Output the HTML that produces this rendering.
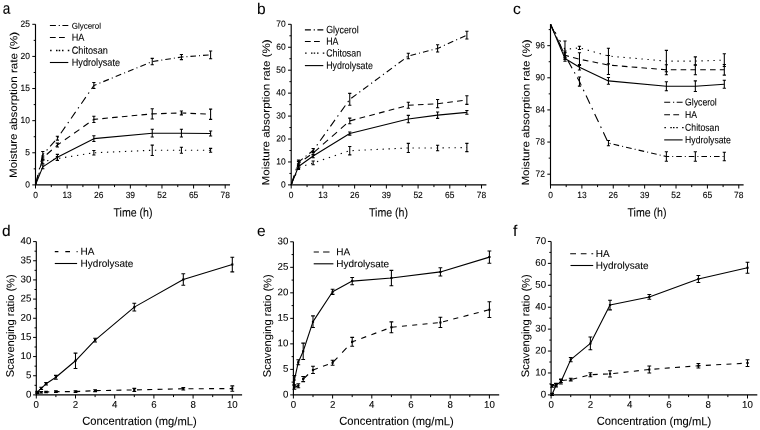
<!DOCTYPE html>
<html><head><meta charset="utf-8"><style>
html,body{margin:0;padding:0;background:#fff;}
svg{display:block;filter:blur(0.3px);}
text{font-family:"Liberation Sans", sans-serif;fill:#000;stroke:#000;stroke-width:0.08px;}
</style></head><body>
<svg width="760" height="430" viewBox="0 0 760 430">
<rect width="760" height="430" fill="#fff"/>
<path d="M35.5 24.3V184.9H230.06" fill="none" stroke="#000" stroke-width="1.15"/>
<text transform="translate(30,187.4) skewY(0.25) scale(1,1.058)" font-size="8.45" text-anchor="end">0</text>
<text transform="translate(30,155.28) skewY(0.25) scale(1,1.058)" font-size="8.45" text-anchor="end">5</text>
<text transform="translate(30,123.16) skewY(0.25) scale(1,1.058)" font-size="8.45" text-anchor="end">10</text>
<text transform="translate(30,91.04) skewY(0.25) scale(1,1.058)" font-size="8.45" text-anchor="end">15</text>
<text transform="translate(30,58.92) skewY(0.25) scale(1,1.058)" font-size="8.45" text-anchor="end">20</text>
<text transform="translate(30,26.8) skewY(0.25) scale(1,1.058)" font-size="8.45" text-anchor="end">25</text>
<text transform="translate(35.5,198.1) skewY(0.25) scale(1,1.058)" font-size="8.45" text-anchor="middle">0</text>
<text transform="translate(67.12,198.1) skewY(0.25) scale(1,1.058)" font-size="8.45" text-anchor="middle">13</text>
<text transform="translate(98.73,198.1) skewY(0.25) scale(1,1.058)" font-size="8.45" text-anchor="middle">26</text>
<text transform="translate(130.35,198.1) skewY(0.25) scale(1,1.058)" font-size="8.45" text-anchor="middle">39</text>
<text transform="translate(161.96,198.1) skewY(0.25) scale(1,1.058)" font-size="8.45" text-anchor="middle">52</text>
<text transform="translate(193.58,198.1) skewY(0.25) scale(1,1.058)" font-size="8.45" text-anchor="middle">65</text>
<text transform="translate(225.2,198.1) skewY(0.25) scale(1,1.058)" font-size="8.45" text-anchor="middle">78</text>
<path d="M35.5 184.9h-3.2M35.5 152.78h-3.2M35.5 120.66h-3.2M35.5 88.54h-3.2M35.5 56.42h-3.2M35.5 24.3h-3.2M35.5 168.84h-1.8M35.5 136.72h-1.8M35.5 104.6h-1.8M35.5 72.48h-1.8M35.5 40.36h-1.8M35.5 184.9v3.6M67.12 184.9v3.6M98.73 184.9v3.6M130.35 184.9v3.6M161.96 184.9v3.6M193.58 184.9v3.6M225.2 184.9v3.6M51.31 184.9v2.2M82.92 184.9v2.2M114.54 184.9v2.2M146.16 184.9v2.2M177.77 184.9v2.2M209.39 184.9v2.2" fill="none" stroke="#000" stroke-width="1"/>
<text transform="translate(2.7,13.7) skewY(0.25) scale(1,1.18)" font-size="13.6" text-anchor="start">a</text>
<text transform="translate(133,216.5) skewY(0.25) scale(1,1.13)" font-size="10.6" text-anchor="middle">Time (h)</text>
<text transform="translate(17,104.9) rotate(-90) skewY(0.25) scale(1,0.9)" font-size="11.6" text-anchor="middle">Moisture absorption rate (%)</text>
<path d="M35.5 184.9L37.94 174.82M39.24 169.41L39.68 167.61M40.98 162.21L42.8 154.71M42.8 154.71L44.04 153.3M46.65 150.34L47.52 149.36M50.14 146.4L55.01 140.89M57.61 137.88L58.42 136.71M60.85 133.2L65.39 126.64M67.82 123.13L68.63 121.96M71.06 118.45L75.6 111.89M78.04 108.38L78.85 107.21M81.28 103.7L85.82 97.14M88.25 93.63L89.06 92.46M91.5 88.95L93.87 85.52M93.87 85.52L96.49 84.45M99.43 83.24L100.41 82.84M103.34 81.63L108.83 79.38M111.77 78.17L112.75 77.77M115.69 76.56L121.17 74.31M124.11 73.11L125.09 72.7M128.03 71.5L133.51 69.24M136.45 68.04L137.43 67.64M140.37 66.43L145.86 64.18M148.8 62.97L149.78 62.57M152.72 61.48L158.31 60.62M161.3 60.16L162.29 60.01M165.29 59.55L170.87 58.69M173.86 58.23L174.86 58.07M177.85 57.61L181.42 57.06M181.42 57.06L183.44 56.91M186.43 56.68L187.43 56.6M190.43 56.37L196.03 55.94M199.02 55.71L200.02 55.63M203.02 55.4L208.62 54.97" fill="none" stroke="#000" stroke-width="1.1"/>
<path d="M42.8 151.5V157.92M41.2 151.5h3.2M41.2 157.92h3.2M57.39 136.27V140.12M55.79 136.27h3.2M55.79 140.12h3.2M93.87 82.5V88.54M92.27 82.5h3.2M92.27 88.54h3.2M152.24 58.35V64.77M150.64 58.35h3.2M150.64 64.77h3.2M181.42 54.49V59.63M179.82 54.49h3.2M179.82 59.63h3.2M210.6 50.96V58.67M209 50.96h3.2M209 58.67h3.2" fill="none" stroke="#000" stroke-width="1.05"/>
<path d="M35.5 184.9L38.16 175.05M40.16 167.66L42.8 157.92M42.8 157.92L42.85 157.87M46.7 154.48L51.82 149.97M55.67 146.59L57.39 145.07M57.39 145.07L60.9 142.6M64.86 139.81L70.14 136.09M74.1 133.3L79.38 129.58M83.34 126.79L88.63 123.07M92.59 120.28L93.87 119.38M93.87 119.38L98.11 118.97M102.3 118.58L107.9 118.05M112.09 117.65L117.68 117.12M121.88 116.72L127.47 116.19M131.67 115.8L137.26 115.27M141.46 114.87L147.05 114.34M151.25 113.94L152.24 113.85M152.24 113.85L156.85 113.71M161.04 113.58L166.64 113.41M170.84 113.28L176.44 113.1M180.64 112.98L181.42 112.95M181.42 112.95L186.24 113.16M190.44 113.35L196.04 113.59M200.24 113.78L205.84 114.03M210.04 114.21L210.6 114.24" fill="none" stroke="#000" stroke-width="1.1"/>
<path d="M42.8 155.99V159.85M41.2 155.99h3.2M41.2 159.85h3.2M57.39 143.14V147M55.79 143.14h3.2M55.79 147h3.2M93.87 116.16V122.59M92.27 116.16h3.2M92.27 122.59h3.2M152.24 108.71V118.99M150.64 108.71h3.2M150.64 118.99h3.2M181.42 111.02V114.88M179.82 111.02h3.2M179.82 114.88h3.2M210.6 109.1V119.38M209 109.1h3.2M209 119.38h3.2" fill="none" stroke="#000" stroke-width="1.05"/>
<path d="M35.5 184.9L36.19 182.7M38.7 174.75L39.4 172.55M41.9 164.6L42.6 162.4M47.1 160.83L48.39 160.54M53.06 159.51L54.35 159.23M59.03 158.3L60.33 158.1M65.01 157.35L66.31 157.15M70.99 156.41L72.29 156.2M76.97 155.46L78.27 155.25M82.96 154.51L84.25 154.3M88.94 153.56L90.23 153.36M94.92 152.73L96.22 152.68M100.92 152.48L102.22 152.42M106.92 152.22L108.22 152.16M112.92 151.96L114.22 151.91M118.92 151.7L120.21 151.65M124.91 151.45L126.21 151.39M130.91 151.19L132.21 151.13M136.91 150.93L138.21 150.88M142.91 150.67L144.21 150.62M148.91 150.42L150.21 150.36M154.91 150.27L156.21 150.27M160.91 150.27L162.21 150.27M166.91 150.27L168.21 150.27M172.91 150.27L174.21 150.27M178.91 150.27L180.21 150.27M184.91 150.27L186.21 150.27M190.91 150.27L192.21 150.27M196.91 150.27L198.21 150.27M202.91 150.27L204.21 150.27M208.91 150.27L210.21 150.27" fill="none" stroke="#000" stroke-width="1.1"/>
<path d="M42.8 159.85V163.7M41.2 159.85h3.2M41.2 163.7h3.2M57.39 156.63V160.49M55.79 156.63h3.2M55.79 160.49h3.2M93.87 150.53V155.03M92.27 150.53h3.2M92.27 155.03h3.2M152.24 145.14V155.41M150.64 145.14h3.2M150.64 155.41h3.2M181.42 147.26V153.29M179.82 147.26h3.2M179.82 153.29h3.2M210.6 148.35V152.2M209 148.35h3.2M209 152.2h3.2" fill="none" stroke="#000" stroke-width="1.05"/>
<path d="M35.5 184.9L42.8 166.91L57.39 157.28L93.87 138.65L152.24 133.19L181.42 133.19L210.6 133.51" fill="none" stroke="#000" stroke-width="1.1" stroke-linejoin="round"/>
<path d="M42.8 164.99V168.84M41.2 164.99h3.2M41.2 168.84h3.2M57.39 154.39V160.17M55.79 154.39h3.2M55.79 160.17h3.2M93.87 135.76V141.54M92.27 135.76h3.2M92.27 141.54h3.2M152.24 129.33V137.04M150.64 129.33h3.2M150.64 137.04h3.2M181.42 129.33V137.04M179.82 129.33h3.2M179.82 137.04h3.2M210.6 130.94V136.08M209 130.94h3.2M209 136.08h3.2" fill="none" stroke="#000" stroke-width="1.05"/>
<path d="M49.9 25.5H55.9M58.7 25.5H59.9M62.4 25.5H68.3" fill="none" stroke="#000" stroke-width="1.1"/>
<text transform="translate(71.7,28.7) skewY(0.25) scale(1,1.05)" font-size="8.0" text-anchor="start">Glycerol</text>
<path d="M49.9 37.5H55.7M59 37.5H64.8" fill="none" stroke="#000" stroke-width="1.1"/>
<text transform="translate(71.7,40.7) skewY(0.25) scale(1,1.12)" font-size="9.17" text-anchor="start">HA</text>
<path d="M50.1 50.5h1.5M56 50.5h1.5M58.7 50.5h1.5M62 50.5h1.5M67.8 50.5h1.5" fill="none" stroke="#000" stroke-width="1.3"/>
<text transform="translate(71.7,53.7) skewY(0.25) scale(1,1.12)" font-size="9.17" text-anchor="start">Chitosan</text>
<path d="M49.9 62.5H68.3" fill="none" stroke="#000" stroke-width="1.1"/>
<text transform="translate(71.7,65.7) skewY(0.25) scale(1,1.12)" font-size="9.17" text-anchor="start">Hydrolysate</text>
<path d="M291.2 24.32V184.9H486.4" fill="none" stroke="#000" stroke-width="1.15"/>
<text transform="translate(285.7,187.4) skewY(0.25) scale(1,1.058)" font-size="8.45" text-anchor="end">0</text>
<text transform="translate(285.7,164.46) skewY(0.25) scale(1,1.058)" font-size="8.45" text-anchor="end">10</text>
<text transform="translate(285.7,141.52) skewY(0.25) scale(1,1.058)" font-size="8.45" text-anchor="end">20</text>
<text transform="translate(285.7,118.58) skewY(0.25) scale(1,1.058)" font-size="8.45" text-anchor="end">30</text>
<text transform="translate(285.7,95.64) skewY(0.25) scale(1,1.058)" font-size="8.45" text-anchor="end">40</text>
<text transform="translate(285.7,72.7) skewY(0.25) scale(1,1.058)" font-size="8.45" text-anchor="end">50</text>
<text transform="translate(285.7,49.76) skewY(0.25) scale(1,1.058)" font-size="8.45" text-anchor="end">60</text>
<text transform="translate(285.7,26.82) skewY(0.25) scale(1,1.058)" font-size="8.45" text-anchor="end">70</text>
<text transform="translate(291.2,198.1) skewY(0.25) scale(1,1.058)" font-size="8.45" text-anchor="middle">0</text>
<text transform="translate(322.92,198.1) skewY(0.25) scale(1,1.058)" font-size="8.45" text-anchor="middle">13</text>
<text transform="translate(354.64,198.1) skewY(0.25) scale(1,1.058)" font-size="8.45" text-anchor="middle">26</text>
<text transform="translate(386.36,198.1) skewY(0.25) scale(1,1.058)" font-size="8.45" text-anchor="middle">39</text>
<text transform="translate(418.08,198.1) skewY(0.25) scale(1,1.058)" font-size="8.45" text-anchor="middle">52</text>
<text transform="translate(449.8,198.1) skewY(0.25) scale(1,1.058)" font-size="8.45" text-anchor="middle">65</text>
<text transform="translate(481.52,198.1) skewY(0.25) scale(1,1.058)" font-size="8.45" text-anchor="middle">78</text>
<path d="M291.2 184.9h-3.2M291.2 161.96h-3.2M291.2 139.02h-3.2M291.2 116.08h-3.2M291.2 93.14h-3.2M291.2 70.2h-3.2M291.2 47.26h-3.2M291.2 24.32h-3.2M291.2 173.43h-1.8M291.2 150.49h-1.8M291.2 127.55h-1.8M291.2 104.61h-1.8M291.2 81.67h-1.8M291.2 58.73h-1.8M291.2 35.79h-1.8M291.2 184.9v3.6M322.92 184.9v3.6M354.64 184.9v3.6M386.36 184.9v3.6M418.08 184.9v3.6M449.8 184.9v3.6M481.52 184.9v3.6M307.06 184.9v2.2M338.78 184.9v2.2M370.5 184.9v2.2M402.22 184.9v2.2M433.94 184.9v2.2M465.66 184.9v2.2" fill="none" stroke="#000" stroke-width="1"/>
<text transform="translate(257,14) skewY(0.25) scale(1,1.0)" font-size="15.5" text-anchor="start">b</text>
<text transform="translate(388.5,216.5) skewY(0.25) scale(1,1.13)" font-size="10.6" text-anchor="middle">Time (h)</text>
<text transform="translate(269.5,112.4) rotate(-90) skewY(0.25) scale(1,0.9)" font-size="11.6" text-anchor="middle">Moisture absorption rate (%)</text>
<path d="M291.2 184.9L294.21 175.46M295.83 170.4L296.36 168.72M297.98 163.66L298.52 161.96M298.52 161.96L302.8 158.61M305.59 156.42L306.52 155.69M309.31 153.5L313.16 150.49M313.16 150.49L314.36 148.81M316.82 145.37L317.64 144.22M320.1 140.79L324.69 134.37M327.15 130.93L327.97 129.79M330.43 126.35L335.02 119.94M337.48 116.5L338.3 115.35M340.76 111.92L345.35 105.5M347.81 102.06L348.63 100.92M351.28 98.21L356.53 94.32M359.34 92.24L360.28 91.54M363.09 89.46L368.35 85.57M371.16 83.49L372.1 82.8M374.91 80.71L380.16 76.82M382.98 74.74L383.91 74.05M386.73 71.96L391.98 68.08M394.79 65.99L395.73 65.3M398.54 63.22L403.79 59.33M406.61 57.24L407.55 56.55M410.48 55.42L416.03 53.98M419.01 53.21L420 52.96M422.97 52.19L428.53 50.75M431.5 49.98L432.49 49.73M435.47 48.96L437.6 48.41M437.6 48.41L440.96 46.88M443.89 45.55L444.87 45.11M447.79 43.78L453.25 41.29M456.18 39.97L457.15 39.52M460.08 38.19L465.54 35.71" fill="none" stroke="#000" stroke-width="1.1"/>
<path d="M298.52 160.12V163.8M296.92 160.12h3.2M296.92 163.8h3.2M313.16 148.43V152.55M311.56 148.43h3.2M311.56 152.55h3.2M349.76 93.37V105.3M348.16 93.37h3.2M348.16 105.3h3.2M408.32 53.22V58.73M406.72 53.22h3.2M406.72 58.73h3.2M437.6 44.74V52.08M436 44.74h3.2M436 52.08h3.2M466.88 31.2V39M465.28 31.2h3.2M465.28 39h3.2" fill="none" stroke="#000" stroke-width="1.05"/>
<path d="M291.2 184.9L294.35 175.63M296.7 168.68L298.52 163.34M298.52 163.34L300.75 161.76M304.71 158.97L310 155.24M313.93 152.33L319.06 147.83M322.91 144.46L328.04 139.96M331.88 136.58L337.01 132.09M340.86 128.71L345.98 124.21M349.84 120.88L355.39 119.4M359.55 118.29L365.1 116.81M369.26 115.7L374.82 114.22M378.98 113.11L384.53 111.64M388.69 110.53L394.24 109.05M398.41 107.94L403.96 106.46M408.12 105.35L408.32 105.3M408.32 105.3L413.72 105M417.92 104.77L423.51 104.46M427.71 104.23L433.31 103.93M437.51 103.7L437.6 103.69M437.6 103.69L443.1 103M447.29 102.48L452.88 101.78M457.07 101.25L462.66 100.55M466.85 100.03L466.88 100.02" fill="none" stroke="#000" stroke-width="1.1"/>
<path d="M298.52 161.5V165.17M296.92 161.5h3.2M296.92 165.17h3.2M313.16 151.18V154.85M311.56 151.18h3.2M311.56 154.85h3.2M349.76 118.14V123.65M348.16 118.14h3.2M348.16 123.65h3.2M408.32 102.32V108.28M406.72 102.32h3.2M406.72 108.28h3.2M437.6 99.56V107.82M436 99.56h3.2M436 107.82h3.2M466.88 95.66V104.38M465.28 95.66h3.2M465.28 104.38h3.2" fill="none" stroke="#000" stroke-width="1.05"/>
<path d="M291.2 184.9L292.04 182.92M295.09 175.76L295.93 173.78M299.22 167.47L300.5 167.04M305.14 165.52L306.42 165.1M311.06 163.57L312.34 163.15M316.98 161.61L318.26 161.18M322.89 159.64L324.18 159.22M328.81 157.68L330.1 157.25M334.73 155.71L336.01 155.29M340.65 153.75L341.93 153.32M346.57 151.78L347.85 151.35M352.53 150.59L353.83 150.53M358.52 150.31L359.82 150.25M364.52 150.03L365.82 149.96M370.52 149.74L371.82 149.68M376.52 149.46L377.82 149.4M382.52 149.18L383.82 149.12M388.52 148.9L389.82 148.84M394.51 148.62L395.81 148.55M400.51 148.33L401.81 148.27M406.51 148.05L407.81 147.99M412.51 147.97L413.81 147.97M418.51 147.97L419.81 147.97M424.51 147.97L425.81 147.97M430.51 147.97L431.81 147.97M436.51 147.97L437.6 147.97M437.6 147.97L437.81 147.96M442.51 147.89L443.81 147.87M448.51 147.8L449.81 147.78M454.51 147.7L455.81 147.68M460.51 147.61L461.81 147.59M466.51 147.51L466.88 147.51" fill="none" stroke="#000" stroke-width="1.1"/>
<path d="M298.52 165.86V169.53M296.92 165.86h3.2M296.92 169.53h3.2M313.16 161.04V164.71M311.56 161.04h3.2M311.56 164.71h3.2M349.76 146.59V154.85M348.16 146.59h3.2M348.16 154.85h3.2M408.32 143.38V152.55M406.72 143.38h3.2M406.72 152.55h3.2M437.6 145.21V150.72M436 145.21h3.2M436 150.72h3.2M466.88 143.38V151.64M465.28 143.38h3.2M465.28 151.64h3.2" fill="none" stroke="#000" stroke-width="1.05"/>
<path d="M291.2 184.9L298.52 166.55L313.16 156L349.76 133.51L408.32 119.06L437.6 115.16L466.88 112.41" fill="none" stroke="#000" stroke-width="1.1" stroke-linejoin="round"/>
<path d="M298.52 164.71V168.38M296.92 164.71h3.2M296.92 168.38h3.2M313.16 154.16V157.83M311.56 154.16h3.2M311.56 157.83h3.2M349.76 131.91V135.12M348.16 131.91h3.2M348.16 135.12h3.2M408.32 115.39V122.73M406.72 115.39h3.2M406.72 122.73h3.2M437.6 111.95V118.37M436 111.95h3.2M436 118.37h3.2M466.88 110.57V114.24M465.28 110.57h3.2M465.28 114.24h3.2" fill="none" stroke="#000" stroke-width="1.05"/>
<path d="M304.9 29.9H310.9M313.7 29.9H314.9M317.4 29.9H323.3" fill="none" stroke="#000" stroke-width="1.1"/>
<text transform="translate(326.2,33.1) skewY(0.25) scale(1,1.17)" font-size="8.85" text-anchor="start">Glycerol</text>
<path d="M304.9 41.5H310.7M314 41.5H319.8" fill="none" stroke="#000" stroke-width="1.1"/>
<text transform="translate(326.2,44.7) skewY(0.25) scale(1,1.17)" font-size="8.85" text-anchor="start">HA</text>
<path d="M305.1 53.2h1.5M311 53.2h1.5M313.7 53.2h1.5M317 53.2h1.5M322.8 53.2h1.5" fill="none" stroke="#000" stroke-width="1.3"/>
<text transform="translate(326.2,56.4) skewY(0.25) scale(1,1.17)" font-size="8.85" text-anchor="start">Chitosan</text>
<path d="M304.9 65.6H323.3" fill="none" stroke="#000" stroke-width="1.1"/>
<text transform="translate(326.2,68.8) skewY(0.25) scale(1,1.17)" font-size="8.85" text-anchor="start">Hydrolysate</text>
<path d="M550.5 24.25V184.9H743.62" fill="none" stroke="#000" stroke-width="1.15"/>
<text transform="translate(545,176.69) skewY(0.25) scale(1,1.058)" font-size="8.45" text-anchor="end">72</text>
<text transform="translate(545,144.56) skewY(0.25) scale(1,1.058)" font-size="8.45" text-anchor="end">78</text>
<text transform="translate(545,112.43) skewY(0.25) scale(1,1.058)" font-size="8.45" text-anchor="end">84</text>
<text transform="translate(545,80.3) skewY(0.25) scale(1,1.058)" font-size="8.45" text-anchor="end">90</text>
<text transform="translate(545,48.17) skewY(0.25) scale(1,1.058)" font-size="8.45" text-anchor="end">96</text>
<text transform="translate(550.5,198.1) skewY(0.25) scale(1,1.058)" font-size="8.45" text-anchor="middle">0</text>
<text transform="translate(581.88,198.1) skewY(0.25) scale(1,1.058)" font-size="8.45" text-anchor="middle">13</text>
<text transform="translate(613.26,198.1) skewY(0.25) scale(1,1.058)" font-size="8.45" text-anchor="middle">26</text>
<text transform="translate(644.65,198.1) skewY(0.25) scale(1,1.058)" font-size="8.45" text-anchor="middle">39</text>
<text transform="translate(676.03,198.1) skewY(0.25) scale(1,1.058)" font-size="8.45" text-anchor="middle">52</text>
<text transform="translate(707.41,198.1) skewY(0.25) scale(1,1.058)" font-size="8.45" text-anchor="middle">65</text>
<text transform="translate(738.79,198.1) skewY(0.25) scale(1,1.058)" font-size="8.45" text-anchor="middle">78</text>
<path d="M550.5 174.19h-3.2M550.5 142.06h-3.2M550.5 109.93h-3.2M550.5 77.8h-3.2M550.5 45.67h-3.2M550.5 158.12h-1.8M550.5 126h-1.8M550.5 93.86h-1.8M550.5 61.73h-1.8M550.5 29.6h-1.8M550.5 184.9v3.6M581.88 184.9v3.6M613.26 184.9v3.6M644.65 184.9v3.6M676.03 184.9v3.6M707.41 184.9v3.6M738.79 184.9v3.6M566.19 184.9v2.2M597.57 184.9v2.2M628.96 184.9v2.2M660.34 184.9v2.2M691.72 184.9v2.2M723.1 184.9v2.2" fill="none" stroke="#000" stroke-width="1"/>
<text transform="translate(513,14) skewY(0.25) scale(1,1.0)" font-size="15.5" text-anchor="start">c</text>
<text transform="translate(647,216.5) skewY(0.25) scale(1,1.13)" font-size="10.6" text-anchor="middle">Time (h)</text>
<text transform="translate(529.4,112.5) rotate(-90) skewY(0.25) scale(1,0.9)" font-size="11.6" text-anchor="middle">Moisture absorption rate (%)</text>
<path d="M550.5 24.25L554.32 32.44M556.37 36.83L557.05 38.29M559.09 42.68L562.91 50.87M564.96 55.26L564.98 55.31M564.98 55.31L565.7 56.6M567.92 60.63L572.07 68.15M574.3 72.18L575.04 73.52M577.26 77.55L579.47 81.55M579.47 81.55L581.26 85.37M583.32 89.74L584.01 91.19M586.06 95.56L589.9 103.72M591.95 108.09L592.64 109.55M594.69 113.92L598.53 122.08M600.59 126.45L601.27 127.9M603.33 132.27L607.17 140.43M609.57 143.39L610.57 143.62M613.55 144.31L619.11 145.6M622.09 146.29L623.08 146.52M626.06 147.2L631.63 148.49M634.61 149.18L635.6 149.41M638.58 150.1L644.14 151.38M647.12 152.07L648.12 152.3M651.1 152.99L656.66 154.27M659.64 154.96L660.63 155.19M663.61 155.88L666.37 156.52M666.37 156.52L669.2 156.52M672.2 156.52L673.2 156.52M676.2 156.52L681.8 156.52M684.8 156.52L685.8 156.52M688.8 156.52L694.4 156.52M697.4 156.52L698.4 156.52M701.4 156.52L707 156.52M710 156.52L711 156.52M714 156.52L719.6 156.52M722.6 156.52L723.6 156.52" fill="none" stroke="#000" stroke-width="1.1"/>
<path d="M564.98 52.63V57.99M563.38 52.63h3.2M563.38 57.99h3.2M579.47 77V86.1M577.87 77h3.2M577.87 86.1h3.2M608.44 140.45V145.81M606.84 140.45h3.2M606.84 145.81h3.2M666.37 151.7V161.34M664.77 151.7h3.2M664.77 161.34h3.2M695.34 151.7V161.34M693.74 151.7h3.2M693.74 161.34h3.2M724.31 152.23V160.8M722.71 152.23h3.2M722.71 160.8h3.2" fill="none" stroke="#000" stroke-width="1.05"/>
<path d="M550.5 24.25L554.32 32.44M557.18 38.58L561 46.77M563.87 52.92L564.98 55.31M564.98 55.31L568.91 56.36M573.08 57.46L578.63 58.94M582.8 59.84L588.37 60.98M592.55 61.83L598.12 62.96M602.3 63.81L607.87 64.94M612.07 65.35L617.66 65.81M621.86 66.15L627.46 66.6M631.65 66.94L637.25 67.4M641.44 67.74L647.04 68.2M651.24 68.54L656.83 68.99M661.03 69.33L666.37 69.77M666.37 69.77L666.62 69.77M670.82 69.77L676.42 69.77M680.62 69.77L686.22 69.77M690.42 69.77L695.34 69.77M695.34 69.77L696.02 69.77M700.22 69.77L705.82 69.77M710.02 69.77L715.62 69.77M719.82 69.77L724.31 69.77" fill="none" stroke="#000" stroke-width="1.1"/>
<path d="M564.98 51.03V59.59M563.38 51.03h3.2M563.38 59.59h3.2M579.47 52.79V65.54M577.87 52.79h3.2M577.87 65.54h3.2M608.44 55.52V74.59M606.84 55.52h3.2M606.84 74.59h3.2M666.37 64.84V74.69M664.77 64.84h3.2M664.77 74.69h3.2M695.34 64.84V74.69M693.74 64.84h3.2M693.74 74.69h3.2M724.31 64.41V75.12M722.71 64.41h3.2M722.71 75.12h3.2" fill="none" stroke="#000" stroke-width="1.05"/>
<path d="M550.5 24.25L551.48 25.96M555.03 32.12L556.01 33.83M559.56 39.99L560.54 41.7M564.09 47.86L564.98 49.42M564.98 49.42L565.1 49.41M569.79 48.89L571.09 48.74M575.78 48.22L577.08 48.08M581.75 48.46L583.04 48.83M587.69 50.15L588.98 50.52M593.63 51.84L594.92 52.21M599.57 53.54L600.86 53.9M605.51 55.23L606.8 55.59M611.48 56.32L612.78 56.44M617.47 56.84L618.77 56.96M623.47 57.36L624.77 57.48M629.46 57.89L630.76 58M635.46 58.41L636.76 58.52M641.45 58.93L642.75 59.04M647.45 59.45L648.74 59.56M653.44 59.97L654.74 60.08M659.43 60.49L660.73 60.6M665.43 61.01L666.37 61.09M666.37 61.09L666.73 61.09M671.43 61.09L672.73 61.09M677.43 61.09L678.73 61.09M683.43 61.09L684.73 61.09M689.43 61.09L690.73 61.09M695.43 61.09L696.73 61.05M701.43 60.89L702.73 60.85M707.43 60.69L708.73 60.65M713.43 60.49L714.73 60.45M719.42 60.29L720.72 60.25" fill="none" stroke="#000" stroke-width="1.1"/>
<path d="M564.98 41.01V57.83M563.38 41.01h3.2M563.38 57.83h3.2M579.47 46.21V49.42M577.87 46.21h3.2M577.87 49.42h3.2M608.44 48.24V63.88M606.84 48.24h3.2M606.84 63.88h3.2M666.37 50.38V71.8M664.77 50.38h3.2M664.77 71.8h3.2M695.34 56.86V65.32M693.74 56.86h3.2M693.74 65.32h3.2M724.31 53.7V66.55M722.71 53.7h3.2M722.71 66.55h3.2" fill="none" stroke="#000" stroke-width="1.05"/>
<path d="M550.5 24.25L564.98 58.52L579.47 67.3L608.44 80.91L666.37 86.21L695.34 86.21L724.31 84.23" fill="none" stroke="#000" stroke-width="1.1" stroke-linejoin="round"/>
<path d="M564.98 55.84V61.2M563.38 55.84h3.2M563.38 61.2h3.2M579.47 64.63V69.98M577.87 64.63h3.2M577.87 69.98h3.2M608.44 77.59V84.23M606.84 77.59h3.2M606.84 84.23h3.2M666.37 81.76V90.65M664.77 81.76h3.2M664.77 90.65h3.2M695.34 80.85V91.56M693.74 80.85h3.2M693.74 91.56h3.2M724.31 80.21V88.24M722.71 80.21h3.2M722.71 88.24h3.2" fill="none" stroke="#000" stroke-width="1.05"/>
<path d="M664.2 102.2H670.2M673 102.2H674.2M676.7 102.2H682.6" fill="none" stroke="#000" stroke-width="1.1"/>
<text transform="translate(685.1,105.4) skewY(0.25) scale(1,1.15)" font-size="8.65" text-anchor="start">Glycerol</text>
<path d="M664.2 114.8H670M673.3 114.8H679.1" fill="none" stroke="#000" stroke-width="1.1"/>
<text transform="translate(685.1,118) skewY(0.25) scale(1,1.15)" font-size="8.65" text-anchor="start">HA</text>
<path d="M664.4 127.6h1.5M670.3 127.6h1.5M673 127.6h1.5M676.3 127.6h1.5M682.1 127.6h1.5" fill="none" stroke="#000" stroke-width="1.3"/>
<text transform="translate(685.1,130.8) skewY(0.25) scale(1,1.15)" font-size="8.65" text-anchor="start">Chitosan</text>
<path d="M664.2 139.9H682.6" fill="none" stroke="#000" stroke-width="1.1"/>
<text transform="translate(685.1,143.1) skewY(0.25) scale(1,1.15)" font-size="8.65" text-anchor="start">Hydrolysate</text>
<path d="M36.3 241.6V394.9H242.1" fill="none" stroke="#000" stroke-width="1.15"/>
<text transform="translate(31.3,397.4) skewY(0.25) scale(1,1.0)" font-size="9.7" text-anchor="end">0</text>
<text transform="translate(31.3,378.24) skewY(0.25) scale(1,1.0)" font-size="9.7" text-anchor="end">5</text>
<text transform="translate(31.3,359.07) skewY(0.25) scale(1,1.0)" font-size="9.7" text-anchor="end">10</text>
<text transform="translate(31.3,339.91) skewY(0.25) scale(1,1.0)" font-size="9.7" text-anchor="end">15</text>
<text transform="translate(31.3,320.75) skewY(0.25) scale(1,1.0)" font-size="9.7" text-anchor="end">20</text>
<text transform="translate(31.3,301.59) skewY(0.25) scale(1,1.0)" font-size="9.7" text-anchor="end">25</text>
<text transform="translate(31.3,282.42) skewY(0.25) scale(1,1.0)" font-size="9.7" text-anchor="end">30</text>
<text transform="translate(31.3,263.26) skewY(0.25) scale(1,1.0)" font-size="9.7" text-anchor="end">35</text>
<text transform="translate(31.3,244.1) skewY(0.25) scale(1,1.0)" font-size="9.7" text-anchor="end">40</text>
<text transform="translate(36.3,407.8) skewY(0.25) scale(1,1.0)" font-size="9.7" text-anchor="middle">0</text>
<text transform="translate(75.5,407.8) skewY(0.25) scale(1,1.0)" font-size="9.7" text-anchor="middle">2</text>
<text transform="translate(114.7,407.8) skewY(0.25) scale(1,1.0)" font-size="9.7" text-anchor="middle">4</text>
<text transform="translate(153.9,407.8) skewY(0.25) scale(1,1.0)" font-size="9.7" text-anchor="middle">6</text>
<text transform="translate(193.1,407.8) skewY(0.25) scale(1,1.0)" font-size="9.7" text-anchor="middle">8</text>
<text transform="translate(232.3,407.8) skewY(0.25) scale(1,1.0)" font-size="9.7" text-anchor="middle">10</text>
<path d="M36.3 394.9h-3.2M36.3 375.74h-3.2M36.3 356.57h-3.2M36.3 337.41h-3.2M36.3 318.25h-3.2M36.3 299.09h-3.2M36.3 279.92h-3.2M36.3 260.76h-3.2M36.3 241.6h-3.2M36.3 385.32h-1.8M36.3 366.16h-1.8M36.3 346.99h-1.8M36.3 327.83h-1.8M36.3 308.67h-1.8M36.3 289.51h-1.8M36.3 270.34h-1.8M36.3 251.18h-1.8M36.3 394.9v3.6M75.5 394.9v3.6M114.7 394.9v3.6M153.9 394.9v3.6M193.1 394.9v3.6M232.3 394.9v3.6M55.9 394.9v2.2M95.1 394.9v2.2M134.3 394.9v2.2M173.5 394.9v2.2M212.7 394.9v2.2" fill="none" stroke="#000" stroke-width="1"/>
<text transform="translate(2,236) skewY(0.25) scale(1,1.0)" font-size="15.5" text-anchor="start">d</text>
<text transform="translate(139.5,425) skewY(0.25) scale(1,1.03)" font-size="11.2" text-anchor="middle">Concentration (mg/mL)</text>
<text transform="translate(14,325.8) rotate(-90) skewY(0.25) scale(1,0.98)" font-size="11.1" text-anchor="middle">Scavenging ratio (%)</text>
<path d="M37.28 392.6L38.98 392.43M44.27 392.1L46.1 392.03M46.1 392.03L49.27 391.9M54.57 391.69L55.9 391.64M55.9 391.64L59.57 391.64M64.87 391.64L69.87 391.64M75.17 391.64L75.5 391.64M75.5 391.64L80.17 391.41M85.47 391.16L90.47 390.91M95.77 390.67L100.77 390.57M106.07 390.47L111.07 390.37M116.37 390.27L121.37 390.17M126.67 390.07L131.66 389.97M136.96 389.86L141.96 389.74M147.26 389.61L152.26 389.5M157.56 389.37L162.56 389.25M167.86 389.13L172.86 389.01M178.16 388.89L183.16 388.77M188.46 388.75L193.46 388.73M198.76 388.71L203.76 388.69M209.06 388.67L214.06 388.65M219.36 388.63L224.36 388.61M229.66 388.59L232.3 388.58" fill="none" stroke="#000" stroke-width="1.1"/>
<path d="M37.28 391.83V393.37M35.38 391.83h3.8M35.38 393.37h3.8M41.2 391.45V392.98M39.3 391.45h3.8M39.3 392.98h3.8M46.1 391.26V392.79M44.2 391.26h3.8M44.2 392.79h3.8M55.9 390.88V392.41M54 390.88h3.8M54 392.41h3.8M75.5 390.88V392.41M73.6 390.88h3.8M73.6 392.41h3.8M95.1 389.73V391.64M93.2 389.73h3.8M93.2 391.64h3.8M134.3 388.38V391.45M132.4 388.38h3.8M132.4 391.45h3.8M183.3 387.62V389.92M181.4 387.62h3.8M181.4 389.92h3.8M232.3 385.89V391.26M230.4 385.89h3.8M230.4 391.26h3.8" fill="none" stroke="#000" stroke-width="1.05"/>
<path d="M36.18 392.6h2.2M40.1 392.22h2.2M45 392.03h2.2M54.8 391.64h2.2M74.4 391.64h2.2M94 390.68h2.2M133.2 389.92h2.2M182.2 388.77h2.2M231.2 388.58h2.2" fill="none" stroke="#000" stroke-width="2"/>
<path d="M37.28 392.03L41.2 388.38L46.1 383.79L55.9 377.27L75.5 360.79L95.1 340.1L134.3 307.14L183.3 279.54L232.3 264.59" fill="none" stroke="#000" stroke-width="1.1" stroke-linejoin="round"/>
<path d="M37.28 391.26V392.79M35.38 391.26h3.8M35.38 392.79h3.8M41.2 387.23V389.53M39.3 387.23h3.8M39.3 389.53h3.8M46.1 382.64V384.94M44.2 382.64h3.8M44.2 384.94h3.8M55.9 375.35V379.19M54 375.35h3.8M54 379.19h3.8M75.5 353.13V368.46M73.6 353.13h3.8M73.6 368.46h3.8M95.1 338.18V342.01M93.2 338.18h3.8M93.2 342.01h3.8M134.3 303.3V310.97M132.4 303.3h3.8M132.4 310.97h3.8M183.3 273.79V285.29M181.4 273.79h3.8M181.4 285.29h3.8M232.3 257.31V271.88M230.4 257.31h3.8M230.4 271.88h3.8" fill="none" stroke="#000" stroke-width="1.05"/>
<path d="M36.18 392.03h2.2M40.1 388.38h2.2M45 383.79h2.2M54.8 377.27h2.2M74.4 360.79h2.2M94 340.1h2.2M133.2 307.14h2.2M182.2 279.54h2.2M231.2 264.59h2.2" fill="none" stroke="#000" stroke-width="2"/>
<path d="M54.8 251.6H58.4M65.3 251.6H70M76.6 251.6H77.6" fill="none" stroke="#000" stroke-width="1.1"/>
<text transform="translate(80.6,254.8) skewY(0.25) scale(1,1.0)" font-size="10" text-anchor="start">HA</text>
<path d="M54.8 263.5H77.1" fill="none" stroke="#000" stroke-width="1.1"/>
<text transform="translate(80.6,266.7) skewY(0.25) scale(1,1.0)" font-size="10" text-anchor="start">Hydrolysate</text>
<path d="M293.4 241.81V394.9H499.2" fill="none" stroke="#000" stroke-width="1.15"/>
<text transform="translate(288.4,397.4) skewY(0.25) scale(1,1.0)" font-size="9.7" text-anchor="end">0</text>
<text transform="translate(288.4,371.88) skewY(0.25) scale(1,1.0)" font-size="9.7" text-anchor="end">5</text>
<text transform="translate(288.4,346.37) skewY(0.25) scale(1,1.0)" font-size="9.7" text-anchor="end">10</text>
<text transform="translate(288.4,320.85) skewY(0.25) scale(1,1.0)" font-size="9.7" text-anchor="end">15</text>
<text transform="translate(288.4,295.34) skewY(0.25) scale(1,1.0)" font-size="9.7" text-anchor="end">20</text>
<text transform="translate(288.4,269.82) skewY(0.25) scale(1,1.0)" font-size="9.7" text-anchor="end">25</text>
<text transform="translate(288.4,244.31) skewY(0.25) scale(1,1.0)" font-size="9.7" text-anchor="end">30</text>
<text transform="translate(293.4,407.8) skewY(0.25) scale(1,1.0)" font-size="9.7" text-anchor="middle">0</text>
<text transform="translate(332.6,407.8) skewY(0.25) scale(1,1.0)" font-size="9.7" text-anchor="middle">2</text>
<text transform="translate(371.8,407.8) skewY(0.25) scale(1,1.0)" font-size="9.7" text-anchor="middle">4</text>
<text transform="translate(411,407.8) skewY(0.25) scale(1,1.0)" font-size="9.7" text-anchor="middle">6</text>
<text transform="translate(450.2,407.8) skewY(0.25) scale(1,1.0)" font-size="9.7" text-anchor="middle">8</text>
<text transform="translate(489.4,407.8) skewY(0.25) scale(1,1.0)" font-size="9.7" text-anchor="middle">10</text>
<path d="M293.4 394.9h-3.2M293.4 369.38h-3.2M293.4 343.87h-3.2M293.4 318.35h-3.2M293.4 292.84h-3.2M293.4 267.32h-3.2M293.4 241.81h-3.2M293.4 382.14h-1.8M293.4 356.63h-1.8M293.4 331.11h-1.8M293.4 305.6h-1.8M293.4 280.08h-1.8M293.4 254.57h-1.8M293.4 394.9v3.6M332.6 394.9v3.6M371.8 394.9v3.6M411 394.9v3.6M450.2 394.9v3.6M489.4 394.9v3.6M313 394.9v2.2M352.2 394.9v2.2M391.4 394.9v2.2M430.6 394.9v2.2M469.8 394.9v2.2" fill="none" stroke="#000" stroke-width="1"/>
<text transform="translate(257,236) skewY(0.25) scale(1,1.0)" font-size="15.5" text-anchor="start">e</text>
<text transform="translate(396.5,425) skewY(0.25) scale(1,1.03)" font-size="11.2" text-anchor="middle">Concentration (mg/mL)</text>
<text transform="translate(271,325.8) rotate(-90) skewY(0.25) scale(1,0.98)" font-size="11.1" text-anchor="middle">Scavenging ratio (%)</text>
<path d="M294.38 387.25L298.3 385.71M298.3 385.71L299.13 384.59M303.55 378.75L308.08 374.51M312.88 370.01L313 369.9M313 369.9L317.79 368.15M323 366.25L327.92 364.46M333.08 362.24L337.49 357.53M342.17 352.54L346.58 347.83M351.25 342.84L352.2 341.83M352.2 341.83L356.06 340.4M361.27 338.46L366.19 336.64M371.4 334.71L376.31 332.88M381.53 330.95L386.44 329.12M391.66 327.26L396.65 326.77M401.94 326.24L406.94 325.75M412.23 325.22L417.23 324.73M422.52 324.21L427.51 323.71M432.81 323.19L437.8 322.69M443.07 321.74L448.03 320.45M453.29 319.08L458.25 317.79M463.5 316.42L468.46 315.13M473.72 313.76L478.67 312.47M483.93 311.1L488.89 309.81" fill="none" stroke="#000" stroke-width="1.1"/>
<path d="M294.38 385.2V389.29M292.48 385.2h3.8M292.48 389.29h3.8M298.3 383.67V387.76M296.4 383.67h3.8M296.4 387.76h3.8M303.2 376.53V381.63M301.3 376.53h3.8M301.3 381.63h3.8M313 366.32V373.47M311.1 366.32h3.8M311.1 373.47h3.8M332.6 360.2V365.3M330.7 360.2h3.8M330.7 365.3h3.8M352.2 337.39V346.27M350.3 337.39h3.8M350.3 346.27h3.8M391.4 321.88V332.69M389.5 321.88h3.8M389.5 332.69h3.8M440.4 317.33V327.54M438.5 317.33h3.8M438.5 327.54h3.8M489.4 301.77V317.59M487.5 301.77h3.8M487.5 317.59h3.8" fill="none" stroke="#000" stroke-width="1.05"/>
<path d="M293.28 387.25h2.2M297.2 385.71h2.2M302.1 379.08h2.2M311.9 369.9h2.2M331.5 362.75h2.2M351.1 341.83h2.2M390.3 327.29h2.2M439.3 322.44h2.2M488.3 309.68h2.2" fill="none" stroke="#000" stroke-width="2"/>
<path d="M294.38 380.1L298.3 362.24L303.2 351.27L313 321.67L332.6 291.82L352.2 281.1L391.4 278.04L440.4 271.92L489.4 257.12" fill="none" stroke="#000" stroke-width="1.1" stroke-linejoin="round"/>
<path d="M294.38 375.51V384.69M292.48 375.51h3.8M292.48 384.69h3.8M298.3 359.69V364.79M296.4 359.69h3.8M296.4 364.79h3.8M303.2 343.1V359.43M301.3 343.1h3.8M301.3 359.43h3.8M313 315.85V327.49M311.1 315.85h3.8M311.1 327.49h3.8M332.6 289.27V294.37M330.7 289.27h3.8M330.7 294.37h3.8M352.2 277.53V284.68M350.3 277.53h3.8M350.3 284.68h3.8M391.4 270.39V285.7M389.5 270.39h3.8M389.5 285.7h3.8M440.4 267.84V276M438.5 267.84h3.8M438.5 276h3.8M489.4 251V263.24M487.5 251h3.8M487.5 263.24h3.8" fill="none" stroke="#000" stroke-width="1.05"/>
<path d="M293.28 380.1h2.2M297.2 362.24h2.2M302.1 351.27h2.2M311.9 321.67h2.2M331.5 291.82h2.2M351.1 281.1h2.2M390.3 278.04h2.2M439.3 271.92h2.2M488.3 257.12h2.2" fill="none" stroke="#000" stroke-width="2"/>
<path d="M313.7 252H318.9M323.1 252H329.5" fill="none" stroke="#000" stroke-width="1.1"/>
<text transform="translate(336.3,255.2) skewY(0.25) scale(1,1.0)" font-size="10" text-anchor="start">HA</text>
<path d="M313.7 263.8H333.4" fill="none" stroke="#000" stroke-width="1.1"/>
<text transform="translate(336.3,267) skewY(0.25) scale(1,1.0)" font-size="10" text-anchor="start">Hydrolysate</text>
<path d="M551.1 241.46V394.9H757.32" fill="none" stroke="#000" stroke-width="1.15"/>
<text transform="translate(546.1,397.4) skewY(0.25) scale(1,1.0)" font-size="9.7" text-anchor="end">0</text>
<text transform="translate(546.1,375.48) skewY(0.25) scale(1,1.0)" font-size="9.7" text-anchor="end">10</text>
<text transform="translate(546.1,353.56) skewY(0.25) scale(1,1.0)" font-size="9.7" text-anchor="end">20</text>
<text transform="translate(546.1,331.64) skewY(0.25) scale(1,1.0)" font-size="9.7" text-anchor="end">30</text>
<text transform="translate(546.1,309.72) skewY(0.25) scale(1,1.0)" font-size="9.7" text-anchor="end">40</text>
<text transform="translate(546.1,287.8) skewY(0.25) scale(1,1.0)" font-size="9.7" text-anchor="end">50</text>
<text transform="translate(546.1,265.88) skewY(0.25) scale(1,1.0)" font-size="9.7" text-anchor="end">60</text>
<text transform="translate(546.1,243.96) skewY(0.25) scale(1,1.0)" font-size="9.7" text-anchor="end">70</text>
<text transform="translate(551.1,407.8) skewY(0.25) scale(1,1.0)" font-size="9.7" text-anchor="middle">0</text>
<text transform="translate(590.38,407.8) skewY(0.25) scale(1,1.0)" font-size="9.7" text-anchor="middle">2</text>
<text transform="translate(629.66,407.8) skewY(0.25) scale(1,1.0)" font-size="9.7" text-anchor="middle">4</text>
<text transform="translate(668.94,407.8) skewY(0.25) scale(1,1.0)" font-size="9.7" text-anchor="middle">6</text>
<text transform="translate(708.22,407.8) skewY(0.25) scale(1,1.0)" font-size="9.7" text-anchor="middle">8</text>
<text transform="translate(747.5,407.8) skewY(0.25) scale(1,1.0)" font-size="9.7" text-anchor="middle">10</text>
<path d="M551.1 394.9h-3.2M551.1 372.98h-3.2M551.1 351.06h-3.2M551.1 329.14h-3.2M551.1 307.22h-3.2M551.1 285.3h-3.2M551.1 263.38h-3.2M551.1 241.46h-3.2M551.1 383.94h-1.8M551.1 362.02h-1.8M551.1 340.1h-1.8M551.1 318.18h-1.8M551.1 296.26h-1.8M551.1 274.34h-1.8M551.1 252.42h-1.8M551.1 394.9v3.6M590.38 394.9v3.6M629.66 394.9v3.6M668.94 394.9v3.6M708.22 394.9v3.6M747.5 394.9v3.6M570.74 394.9v2.2M610.02 394.9v2.2M649.3 394.9v2.2M688.58 394.9v2.2M727.86 394.9v2.2" fill="none" stroke="#000" stroke-width="1"/>
<text transform="translate(513,236) skewY(0.25) scale(1,1.0)" font-size="15.5" text-anchor="start">f</text>
<text transform="translate(654,425) skewY(0.25) scale(1,1.03)" font-size="11.2" text-anchor="middle">Concentration (mg/mL)</text>
<text transform="translate(529.3,325.8) rotate(-90) skewY(0.25) scale(1,0.98)" font-size="11.1" text-anchor="middle">Scavenging ratio (%)</text>
<path d="M552.08 385.91L556.01 384.6M556.01 384.6L556.95 383.84M561.94 380.54L566.94 379.98M572.22 379.19L577.18 377.97M582.44 376.68L587.41 375.46M592.68 374.63L597.68 374.41M602.98 374.17L607.98 373.95M613.27 373.49L618.27 372.94M623.56 372.35L628.55 371.79M633.84 371.2L638.83 370.64M644.13 370.05L649.12 369.49M654.41 369.08L659.41 368.71M664.71 368.3L669.7 367.92M675 367.52L679.99 367.14M685.29 366.74L690.29 366.36M695.58 365.96L698.4 365.75M698.4 365.75L700.58 365.63M705.88 365.35L710.88 365.08M716.18 364.79L721.17 364.53M726.47 364.24L731.47 363.97M736.77 363.69L741.77 363.42M747.06 363.14L747.5 363.12" fill="none" stroke="#000" stroke-width="1.1"/>
<path d="M552.08 384.6V387.23M550.18 384.6h3.8M550.18 387.23h3.8M556.01 383.28V385.91M554.11 383.28h3.8M554.11 385.91h3.8M560.92 378.9V382.41M559.02 378.9h3.8M559.02 382.41h3.8M570.74 378.24V380.87M568.84 378.24h3.8M568.84 380.87h3.8M590.38 372.76V376.71M588.48 372.76h3.8M588.48 376.71h3.8M610.02 370.79V376.93M608.12 370.79h3.8M608.12 376.93h3.8M649.3 365.97V372.98M647.4 365.97h3.8M647.4 372.98h3.8M698.4 363.44V368.05M696.5 363.44h3.8M696.5 368.05h3.8M747.5 359.83V366.4M745.6 359.83h3.8M745.6 366.4h3.8" fill="none" stroke="#000" stroke-width="1.05"/>
<path d="M550.98 385.91h2.2M554.91 384.6h2.2M559.82 380.65h2.2M569.64 379.56h2.2M589.28 374.73h2.2M608.92 373.86h2.2M648.2 369.47h2.2M697.3 365.75h2.2M746.4 363.12h2.2" fill="none" stroke="#000" stroke-width="2"/>
<path d="M552.08 394.46L556.01 385.26L560.92 381.75L570.74 359.61L590.38 343.39L610.02 305.03L649.3 296.92L698.4 278.94L747.5 267.76" fill="none" stroke="#000" stroke-width="1.1" stroke-linejoin="round"/>
<path d="M552.08 393.37V395.56M550.18 393.37h3.8M550.18 395.56h3.8M556.01 383.5V387.01M554.11 383.5h3.8M554.11 387.01h3.8M560.92 379.56V383.94M559.02 379.56h3.8M559.02 383.94h3.8M570.74 357.42V361.8M568.84 357.42h3.8M568.84 361.8h3.8M590.38 337.03V349.74M588.48 337.03h3.8M588.48 349.74h3.8M610.02 300.21V309.85M608.12 300.21h3.8M608.12 309.85h3.8M649.3 294.51V299.33M647.4 294.51h3.8M647.4 299.33h3.8M698.4 275.44V282.45M696.5 275.44h3.8M696.5 282.45h3.8M747.5 262.28V273.24M745.6 262.28h3.8M745.6 273.24h3.8" fill="none" stroke="#000" stroke-width="1.05"/>
<path d="M550.98 394.46h2.2M554.91 385.26h2.2M559.82 381.75h2.2M569.64 359.61h2.2M589.28 343.39h2.2M608.92 305.03h2.2M648.2 296.92h2.2M697.3 278.94h2.2M746.4 267.76h2.2" fill="none" stroke="#000" stroke-width="2"/>
<path d="M570.2 253.7H576M580.8 253.7H586.5M591.4 253.7H593.2" fill="none" stroke="#000" stroke-width="1.1"/>
<text transform="translate(595.8,256.9) skewY(0.25) scale(1,1.0)" font-size="10" text-anchor="start">HA</text>
<path d="M570.5 265.5H593.2" fill="none" stroke="#000" stroke-width="1.1"/>
<text transform="translate(595.8,268.7) skewY(0.25) scale(1,1.0)" font-size="10" text-anchor="start">Hydrolysate</text>
</svg>
</body></html>
